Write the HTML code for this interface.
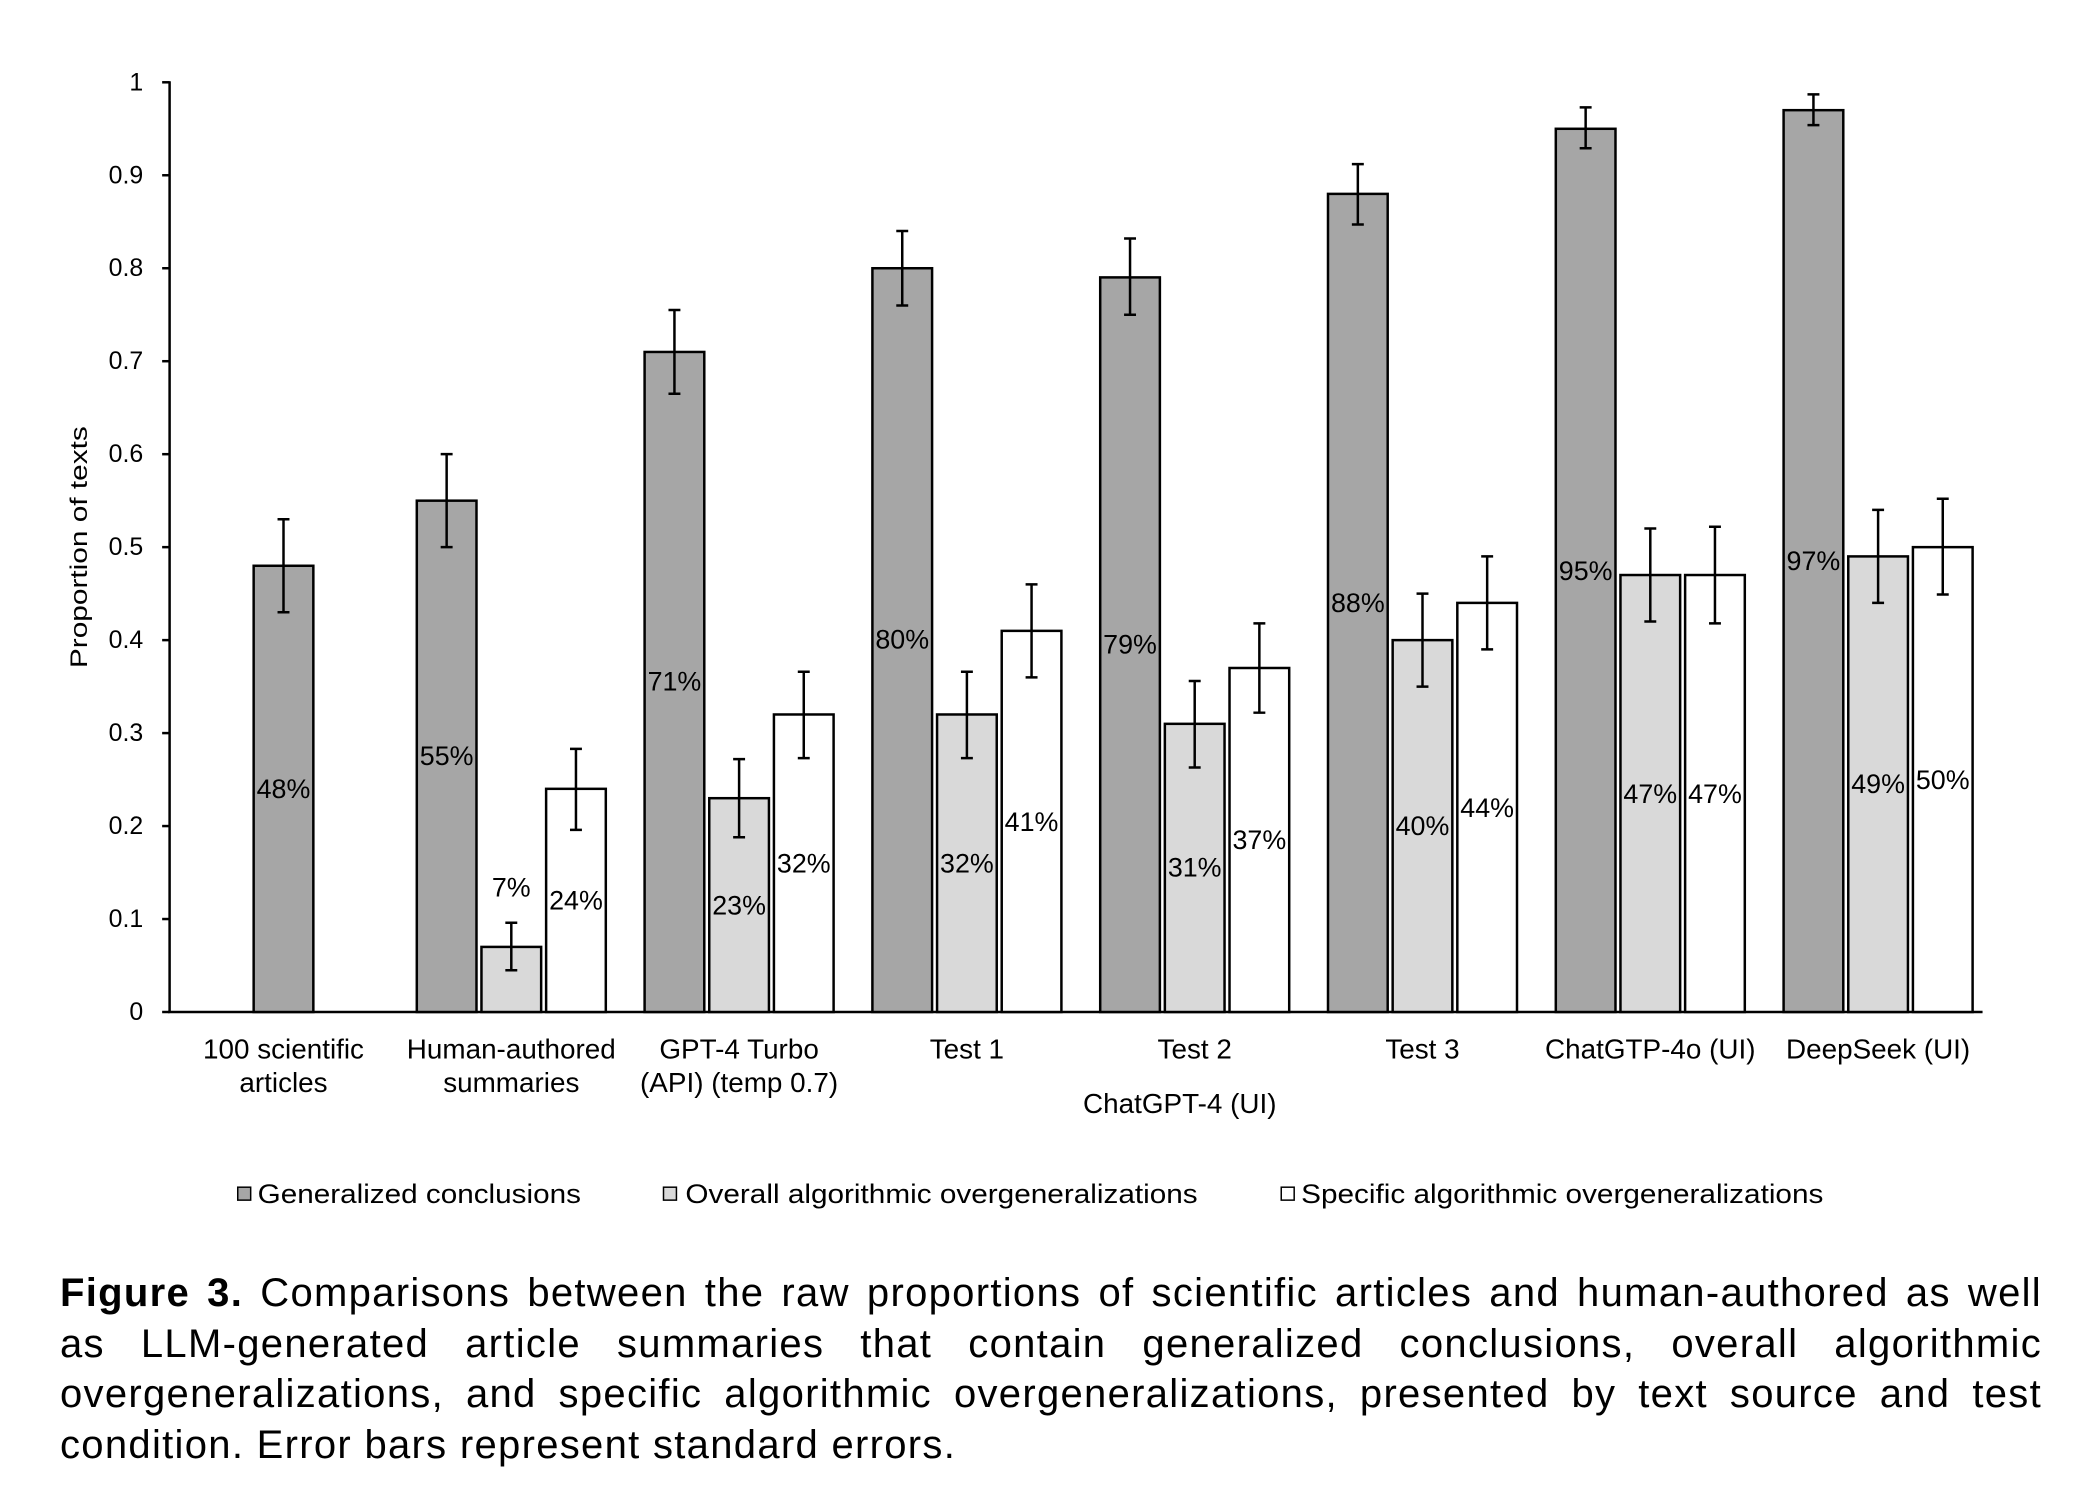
<!DOCTYPE html>
<html><head><meta charset="utf-8"><style>
html,body{margin:0;padding:0;background:#fff;width:2082px;height:1508px;overflow:hidden}
svg{position:absolute;left:0;top:0}
text{font-family:"Liberation Sans",Arial,sans-serif;fill:#000}
.cap{position:absolute;left:60px;top:1268px;width:1982px;font-family:"Liberation Sans",Arial,sans-serif;font-size:40px;letter-spacing:1.3px;line-height:50.5px;color:#000}
.cap div{text-align:justify;text-align-last:justify;white-space:nowrap}
.cap div.last{text-align-last:left}
</style></head><body>
<svg width="2082" height="1508" viewBox="0 0 2082 1508">
<g transform="matrix(0.99476 0 0 0.9954 0.99 -0.32)">
<g stroke="#000" stroke-width="2.5">
<line x1="169.5" y1="82" x2="169.5" y2="1018"/>
<line x1="168" y1="1017" x2="1992" y2="1017"/>
<line x1="162" y1="83" x2="169.5" y2="83"/>
<line x1="162" y1="176.4" x2="169.5" y2="176.4"/>
<line x1="162" y1="269.8" x2="169.5" y2="269.8"/>
<line x1="162" y1="363.2" x2="169.5" y2="363.2"/>
<line x1="162" y1="456.6" x2="169.5" y2="456.6"/>
<line x1="162" y1="550" x2="169.5" y2="550"/>
<line x1="162" y1="643.4" x2="169.5" y2="643.4"/>
<line x1="162" y1="736.8" x2="169.5" y2="736.8"/>
<line x1="162" y1="830.2" x2="169.5" y2="830.2"/>
<line x1="162" y1="923.6" x2="169.5" y2="923.6"/>
<line x1="162" y1="1017" x2="169.5" y2="1017"/>
</g>
<g font-size="25" text-anchor="end" dominant-baseline="central">
<text x="143" y="83">1</text><text x="143" y="176.4">0.9</text><text x="143" y="269.8">0.8</text><text x="143" y="363.2">0.7</text><text x="143" y="456.6">0.6</text><text x="143" y="550">0.5</text><text x="143" y="643.4">0.4</text><text x="143" y="736.8">0.3</text><text x="143" y="830.2">0.2</text><text x="143" y="923.6">0.1</text><text x="143" y="1017">0</text>
</g>
<text transform="translate(79,550) rotate(-90)" font-size="24" text-anchor="middle" dominant-baseline="central" textLength="243" lengthAdjust="spacingAndGlyphs">Proportion of texts</text>
<g stroke="#000" stroke-width="2.5">
<rect x="254" y="568.7" width="60" height="448.3" fill="#a6a6a6"/>
<rect x="418" y="503.3" width="60" height="513.7" fill="#a6a6a6"/>
<rect x="483" y="951.6" width="60" height="65.4" fill="#d9d9d9"/>
<rect x="548" y="792.8" width="60" height="224.2" fill="#fff"/>
<rect x="647" y="353.9" width="60" height="663.1" fill="#a6a6a6"/>
<rect x="712" y="802.2" width="60" height="214.8" fill="#d9d9d9"/>
<rect x="777" y="718.1" width="60" height="298.9" fill="#fff"/>
<rect x="876" y="269.8" width="60" height="747.2" fill="#a6a6a6"/>
<rect x="941" y="718.1" width="60" height="298.9" fill="#d9d9d9"/>
<rect x="1006" y="634.1" width="60" height="382.9" fill="#fff"/>
<rect x="1105" y="279" width="60" height="738" fill="#a6a6a6"/>
<rect x="1170" y="727.5" width="60" height="289.5" fill="#d9d9d9"/>
<rect x="1235" y="671.4" width="60" height="345.6" fill="#fff"/>
<rect x="1334" y="195.1" width="60" height="821.9" fill="#a6a6a6"/>
<rect x="1399" y="643.4" width="60" height="373.6" fill="#d9d9d9"/>
<rect x="1464" y="606" width="60" height="411" fill="#fff"/>
<rect x="1563" y="129.7" width="60" height="887.3" fill="#a6a6a6"/>
<rect x="1628" y="578" width="60" height="439" fill="#d9d9d9"/>
<rect x="1693" y="578" width="60" height="439" fill="#fff"/>
<rect x="1792" y="111" width="60" height="906" fill="#a6a6a6"/>
<rect x="1857" y="559.3" width="60" height="457.7" fill="#d9d9d9"/>
<rect x="1922" y="550" width="60" height="467" fill="#fff"/>
</g>
<g stroke="#000" stroke-width="2.5" fill="none">
<path d="M284 522V615.4M278 522H290M278 615.4H290"/>
<path d="M448 456.6V550M442 456.6H454M442 550H454"/>
<path d="M513 927.3V975M507 927.3H519M507 975H519"/>
<path d="M578 752.7V834M572 752.7H584M572 834H584"/>
<path d="M677 311.8V395.9M671 311.8H683M671 395.9H683"/>
<path d="M742 763V841.4M736 763H748M736 841.4H748"/>
<path d="M807 675.2V762M801 675.2H813M801 762H813"/>
<path d="M906 232.4V307.2M900 232.4H912M900 307.2H912"/>
<path d="M971 675.2V762M965 675.2H977M965 762H977"/>
<path d="M1036 587.4V680.8M1030 587.4H1042M1030 680.8H1042"/>
<path d="M1135 239.9V316.5M1129 239.9H1141M1129 316.5H1141"/>
<path d="M1200 684.5V771.4M1194 684.5H1206M1194 771.4H1206"/>
<path d="M1265 626.6V716.3M1259 626.6H1271M1259 716.3H1271"/>
<path d="M1364 165.2V225.9M1358 165.2H1370M1358 225.9H1370"/>
<path d="M1429 596.7V690.1M1423 596.7H1435M1423 690.1H1435"/>
<path d="M1494 559.3V652.7M1488 559.3H1500M1488 652.7H1500"/>
<path d="M1593 108.2V149.3M1587 108.2H1599M1587 149.3H1599"/>
<path d="M1658 531.3V624.7M1652 531.3H1664M1652 624.7H1664"/>
<path d="M1723 529.5V626.6M1717 529.5H1729M1717 626.6H1729"/>
<path d="M1822 95.1V126M1816 95.1H1828M1816 126H1828"/>
<path d="M1887 512.6V606M1881 512.6H1893M1881 606H1893"/>
<path d="M1952 501.4V597.6M1946 501.4H1958M1946 597.6H1958"/>
</g>
<g font-size="27" text-anchor="middle" dominant-baseline="central">
<text x="284" y="793">48%</text>
<text x="448" y="760">55%</text><text x="513" y="892">7%</text><text x="578" y="905">24%</text>
<text x="677" y="685">71%</text><text x="742" y="910">23%</text><text x="807" y="868">32%</text>
<text x="906" y="643">80%</text><text x="971" y="868">32%</text><text x="1036" y="826">41%</text>
<text x="1135" y="648">79%</text><text x="1200" y="872">31%</text><text x="1265" y="844">37%</text>
<text x="1364" y="606">88%</text><text x="1429" y="830">40%</text><text x="1494" y="812">44%</text>
<text x="1593" y="574">95%</text><text x="1658" y="798">47%</text><text x="1723" y="798">47%</text>
<text x="1822" y="564">97%</text><text x="1887" y="788">49%</text><text x="1952" y="784">50%</text>
</g>
<g font-size="28" text-anchor="middle" dominant-baseline="central">
<text x="284" y="1054">100 scientific</text><text x="284" y="1088">articles</text>
<text x="513" y="1054">Human-authored</text><text x="513" y="1088">summaries</text>
<text x="742" y="1054">GPT-4 Turbo</text><text x="742" y="1088">(API) (temp 0.7)</text>
<text x="971" y="1054">Test 1</text><text x="1200" y="1054">Test 2</text><text x="1429" y="1054">Test 3</text>
<text x="1658" y="1054">ChatGTP-4o (UI)</text><text x="1887" y="1054">DeepSeek (UI)</text>
<text x="1185" y="1109">ChatGPT-4 (UI)</text>
</g>
<g stroke="#000" stroke-width="1.5">
<rect x="238" y="1193" width="13" height="13" fill="#a6a6a6"/>
<rect x="666" y="1193" width="13" height="13" fill="#d9d9d9"/>
<rect x="1287" y="1193" width="13" height="13" fill="#fff"/>
</g>
<g font-size="27" dominant-baseline="central">
<text x="258" y="1200" textLength="325" lengthAdjust="spacingAndGlyphs">Generalized conclusions</text>
<text x="688" y="1200" textLength="515" lengthAdjust="spacingAndGlyphs">Overall algorithmic overgeneralizations</text>
<text x="1307" y="1200" textLength="525" lengthAdjust="spacingAndGlyphs">Specific algorithmic overgeneralizations</text>
</g>
</g>
</svg>
<div class="cap">
<div><b>Figure 3.</b> Comparisons between the raw proportions of scientific articles and human-authored as well</div>
<div>as LLM-generated article summaries that contain generalized conclusions, overall algorithmic</div>
<div>overgeneralizations, and specific algorithmic overgeneralizations, presented by text source and test</div>
<div class="last">condition. Error bars represent standard errors.</div>
</div>
</body></html>
